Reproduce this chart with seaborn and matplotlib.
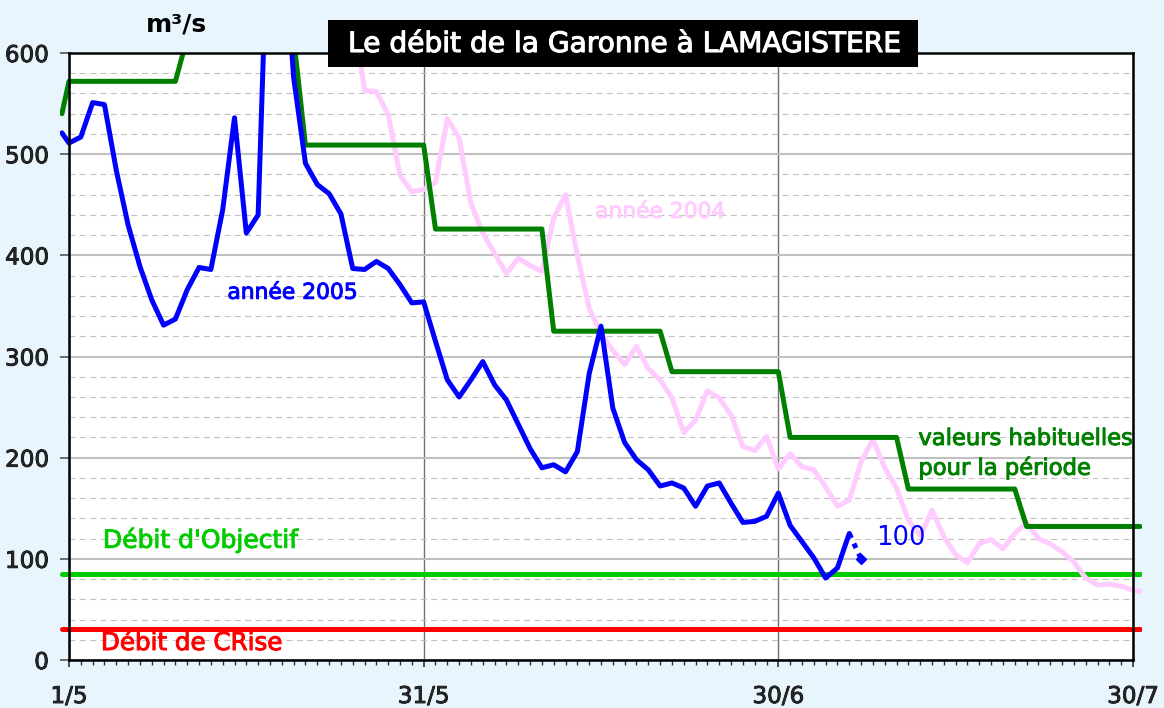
import numpy as np
import pandas as pd
import matplotlib
matplotlib.use("Agg")
import matplotlib.pyplot as plt
import matplotlib.patheffects as pe
import seaborn as sns
from matplotlib.patches import Rectangle
from matplotlib.ticker import MultipleLocator, FixedLocator

# =========================
# DONNEES (jours depuis le 1/5, debit en m3/s)
# =========================

jours_2005 = [-0.6, 0, 1, 2, 3, 4, 5, 6, 7, 8, 9, 10, 11, 12, 13, 14, 15, 16,
              17, 18, 19, 20, 21, 22, 23, 24, 25, 26, 27, 28, 29, 30, 31, 32,
              33, 34, 35, 36, 37, 38, 39, 40, 41, 42, 43, 44, 45, 46, 47, 48,
              49, 50, 51, 52, 53, 54, 55, 56, 57, 58, 59, 60, 61, 62, 63, 64,
              65, 66]
debit_2005 = [521, 511, 517, 551, 549, 484, 430, 389, 356, 331, 337, 366, 388,
              386, 445, 536, 422, 440, 800, 740, 576, 491, 470, 461, 441, 387,
              386, 394, 387, 371, 353, 354, 315, 277, 260, 277, 295, 272, 257,
              233, 209, 190, 193, 186, 206, 283, 330, 249, 215, 198, 188, 172,
              175, 170, 152, 172, 175, 155, 136, 137, 142, 165, 133, 117, 101,
              81, 91, 125]

# dernier point provisoire (pointille)
jours_prov = [66, 67]
debit_prov = [125, 100]

jours_2004 = [24, 25, 26, 27, 28, 29, 30, 31, 32, 33, 34, 35, 36, 37, 38, 39,
              40, 41, 42, 43, 44, 45, 46, 47, 48, 49, 50, 51, 52, 53, 54, 55,
              56, 57, 58, 59, 60, 61, 62, 63, 64, 65, 66, 67, 68, 69, 70, 71,
              72, 73, 74, 75, 76, 77, 78, 79, 80, 81, 82, 83, 84, 85, 86, 87,
              88, 89, 90, 90.6]
debit_2004 = [640, 563, 562, 539, 479, 463, 465, 472, 535, 516, 451, 422, 402,
              382, 397, 390, 384, 437, 460, 400, 348, 322, 306, 292, 310, 288,
              277, 259, 225, 237, 266, 259, 242, 211, 207, 221, 189, 204, 191,
              188, 171, 152, 158, 196, 218, 190, 170, 138, 123, 148, 122, 104,
              96, 115, 119, 110, 125, 136, 120, 115, 107, 97, 81, 74, 75, 73,
              69, 68]

jours_hab = [-0.6, 0, 9, 10, 19, 20, 30, 31, 40, 41, 50, 51, 60, 61, 70, 71,
             80, 81, 90.6]
debit_hab = [540, 572, 572, 615, 615, 509, 509, 426, 426, 325, 325, 285, 285,
             220, 220, 169, 169, 132, 132]

jours_seuil = [-0.6, 90.6]
debit_objectif = [85, 85]
debit_crise = [31, 31]

ticks_x = [0, 30, 60, 90]
labels_x = ["1/5", "31/5", "30/6", "30/7"]

# =========================
# FIGURE
# =========================

sns.set_style("white")
plt.rcParams["font.family"] = ["DejaVu Sans"]


def gras(couleur, epaisseur=0.7):
    # epaissit un peu le trait du texte (style Tahoma gras)
    return [pe.withStroke(linewidth=epaisseur, foreground=couleur)]


fond = "#E8F5FD"
fig = plt.figure(figsize=(11.64, 7.08), dpi=100, facecolor=fond)
ax = fig.add_axes([69 / 1164, 1 - 660 / 708, 1064 / 1164, 607 / 708])
ax.set_facecolor("white")

sns.lineplot(x=jours_seuil, y=debit_crise, ax=ax, color="#FF0000",
             linewidth=3.6, estimator=None, sort=False)
sns.lineplot(x=jours_seuil, y=debit_objectif, ax=ax, color="#00CC00",
             linewidth=3.6, estimator=None, sort=False)
sns.lineplot(x=jours_2004, y=debit_2004, ax=ax, color="#FFCCFF",
             linewidth=3.6, estimator=None, sort=False)
sns.lineplot(x=jours_hab, y=debit_hab, ax=ax, color="#007F00",
             linewidth=3.6, estimator=None, sort=False)
sns.lineplot(x=jours_2005, y=debit_2005, ax=ax, color="#0000FF",
             linewidth=3.6, estimator=None, sort=False)
sns.lineplot(x=jours_prov, y=debit_prov, ax=ax, color="#0000FF",
             linewidth=3.6, linestyle=(0, (1, 1.2)), estimator=None, sort=False)
ax.plot(jours_prov[-1:], debit_prov[-1:], marker="D", color="#0000FF",
        markersize=5.5, linestyle="none")

# on laisse deborder un peu a gauche et a droite
clip = Rectangle((-0.008, 0), 1.016, 1, transform=ax.transAxes)
for ln in ax.lines:
    ln.set_clip_path(clip)

ax.set_xlim(0, 90)
ax.set_ylim(0, 600)

# grilles
ax.yaxis.set_major_locator(MultipleLocator(100))
ax.yaxis.set_minor_locator(MultipleLocator(20))
ax.xaxis.set_major_locator(FixedLocator(ticks_x))
ax.xaxis.set_minor_locator(MultipleLocator(1))
ax.set_xticklabels(labels_x)
ax.grid(axis="y", which="major", color="#C0C0C0", linewidth=1.5, linestyle="-")
ax.grid(axis="y", which="minor", color="#C0C0C0", linewidth=0.8,
        linestyle=(0, (5.4, 3.9)))
ax.grid(axis="x", which="major", color="#707070", linewidth=1.0)
ax.set_axisbelow(True)

for s in ax.spines.values():
    s.set_color("black")
    s.set_linewidth(1.8)

ax.tick_params(axis="y", which="major", length=6.5, width=1.2, color="#555555",
               labelsize=16.6, pad=8, direction="out", left=True)
ax.tick_params(axis="y", which="minor", length=0)
ax.tick_params(axis="x", which="major", length=5, width=1.2, color="#333333",
               labelsize=16.6, pad=13, direction="out", bottom=True)
ax.tick_params(axis="x", which="minor", length=3.6, width=1.0, color="#333333",
               direction="out", bottom=True)
for lab in ax.get_xticklabels() + ax.get_yticklabels():
    lab.set_path_effects(gras("black", 0.6))
ax.set_xlabel("")
ax.set_ylabel("")

# textes
ax.text(13.4, 363, "année 2005", color="#0000FF", fontsize=15.7,
        va="center", ha="left", path_effects=gras("#0000FF"))
ax.text(44.5, 443, "année 2004", color="#FFCCFF", fontsize=15.7,
        va="center", ha="left", path_effects=gras("#FFCCFF"))
ax.text(71.85, 219, "valeurs habituelles", color="#007F00", fontsize=16.3,
        va="center", ha="left", path_effects=gras("#007F00"))
ax.text(71.85, 190, "pour la période", color="#007F00", fontsize=16.3,
        va="center", ha="left", path_effects=gras("#007F00"))
ax.text(2.87, 118.6, "Débit d'Objectif", color="#00CC00", fontsize=18,
        va="center", ha="left", path_effects=gras("#00CC00"))
ax.text(2.7, 16.8, "Débit de CRise", color="#FF0000", fontsize=17.7,
        va="center", ha="left", path_effects=gras("#FF0000"))
ax.text(68.3, 120.6, "100", color="#0000FF", fontsize=18.5,
        va="center", ha="left")

fig.text(176 / 1164, 1 - 25 / 708, "m³/s", fontsize=18, fontweight="bold",
         ha="center", va="center", color="black")

# cartouche du titre
fig.patches.append(Rectangle((328 / 1164, 1 - 67 / 708), 590 / 1164, 47 / 708,
                             transform=fig.transFigure, facecolor="black",
                             edgecolor="none", zorder=2))
fig.text(623 / 1164, 1 - 44 / 708, "Le débit de la Garonne à LAMAGISTERE",
         fontsize=20.2, ha="center", va="center", color="white", zorder=3,
         path_effects=gras("white", 0.8))

fig.savefig("out.png", dpi=100, facecolor=fond)
